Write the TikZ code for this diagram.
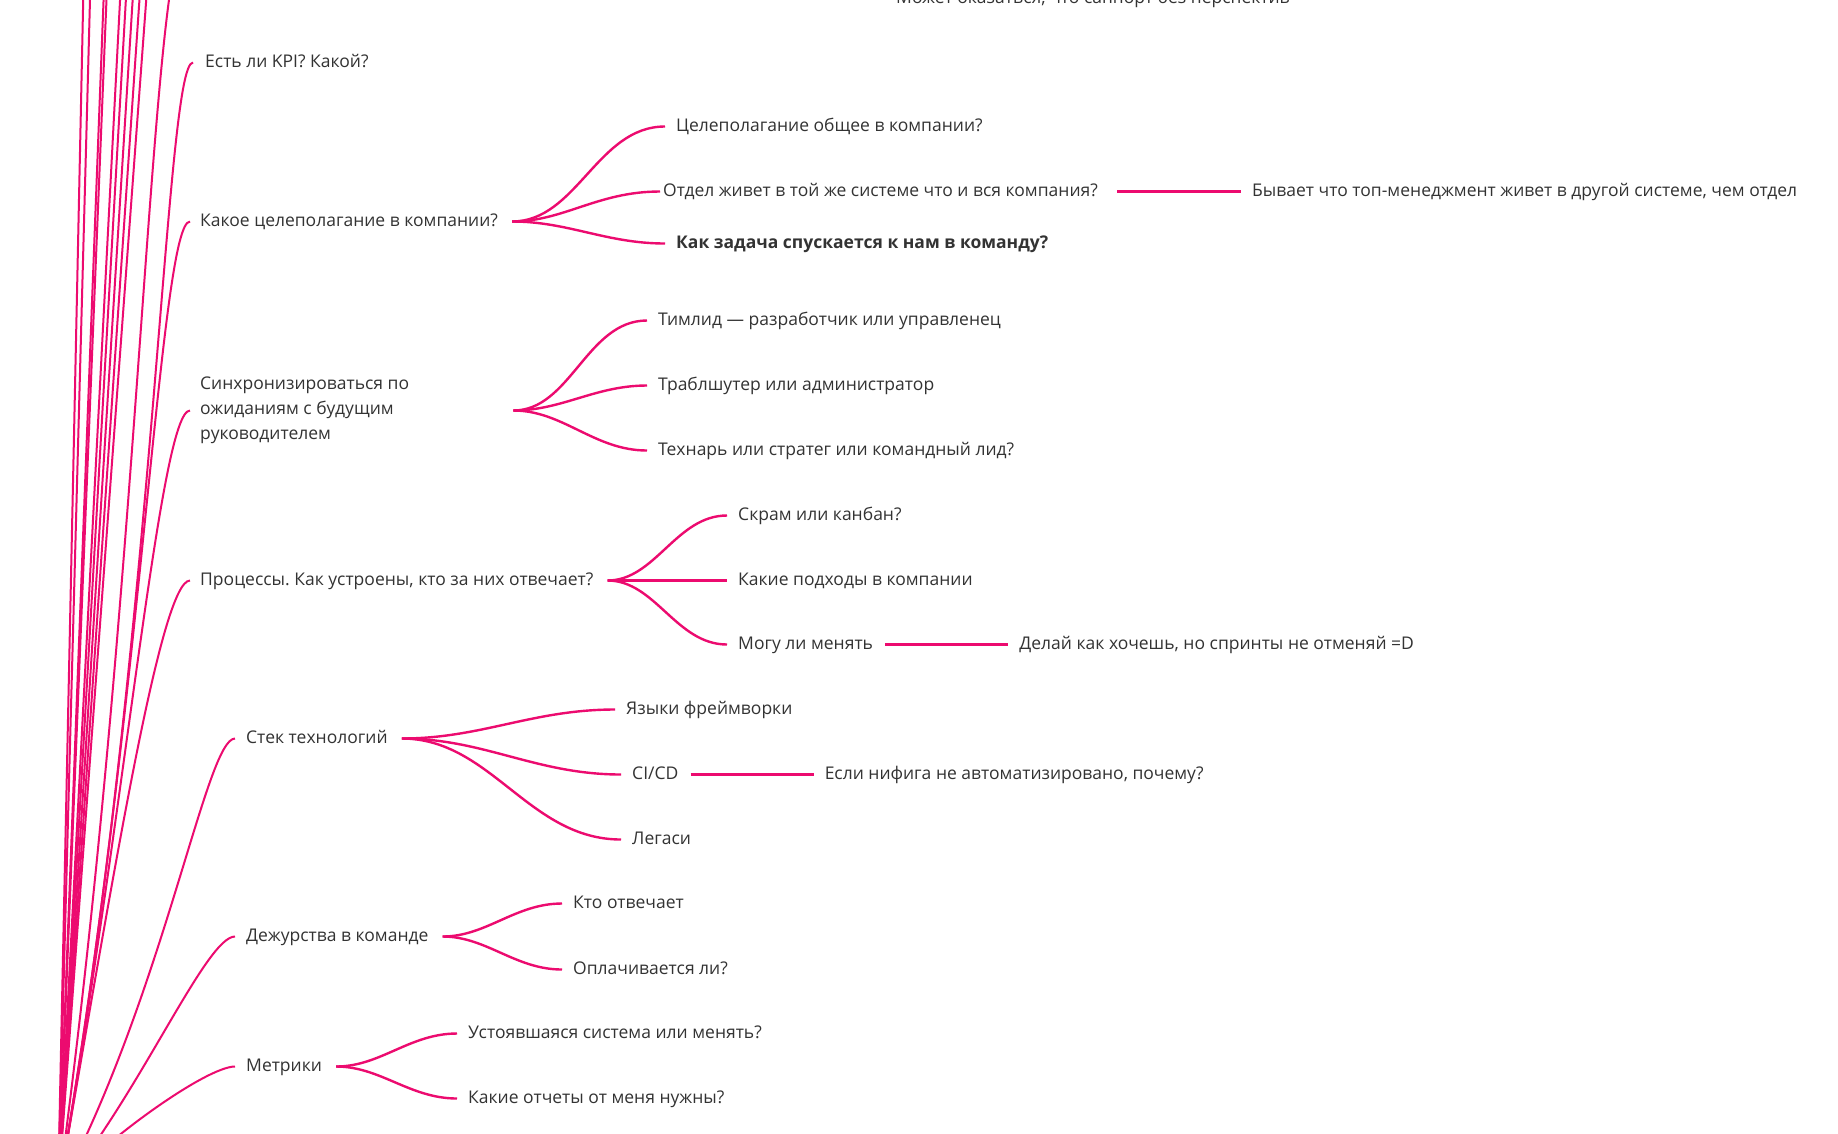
\documentclass[tikz,border=0pt]{standalone}
\usepackage{fontspec}
\setmainfont{Open Sans}
\usetikzlibrary{positioning}
\definecolor{mmpink}{HTML}{EC0B6F}
\definecolor{mmtext}{HTML}{333333}
\newcommand{\mmfont}{\fontsize{17.5}{25.2}\selectfont}
\frenchspacing

\begin{document}
\begin{tikzpicture}[x=1pt,y=-1pt,
    topic/.style={anchor=west, inner sep=0pt, text=mmtext, font=\mmfont,
      text height=12.5pt, text depth=3.5pt},
    link/.style={draw=mmpink, line width=2.4pt},
    trunk/.style={draw=mmpink, line width=2pt},
    fan/.style={link, out=0, in=180, shorten <=14pt, shorten >=11pt},
    note/.style={link, shorten <=12pt, shorten >=11pt}]
  \useasboundingbox (0,-2.5) rectangle (1838,1130.5);
  \fill[white] (0,-2.5) rectangle (1838,1130.5);
  \clip (0,-2.5) rectangle (1838,1130.5);

  % topics
  \node[topic, anchor=base west] (support) at (896,0.5) {Может оказаться, что саппорт без перспектив};
  \node[topic] (kpi) at (205,60) {Есть ли KPI? Какой?};
  \node[topic] (goals) at (200,219) {Какое целеполагание в компании?};
  \node[topic] (goal1) at (676,124) {Целеполагание общее в компании?};
  \node[topic] (goal2) at (663,189) {Отдел живет в той же системе что и вся компания?};
  \node[topic, font=\mmfont\bfseries] (goal3) at (676,241) {Как задача спускается к нам в команду?};
  \node[topic, right=154pt of goal2] (goal2a) {Бывает что топ-менеджмент живет в другой системе, чем отдел};
  \node[topic, align=left, text height=, text depth=] (sync) at (200,408) {Синхронизироваться по\\ожиданиям с будущим\\руководителем};
  \node[topic] (sync1) at (658,318) {Тимлид — разработчик или управленец};
  \node[topic] (sync2) at (658,383) {Траблшутер или администратор};
  \node[topic] (sync3) at (658,448) {Технарь или стратег или командный лид?};
  \node[topic] (proc) at (200,578) {Процессы. Как устроены, кто за них отвечает?};
  \node[topic] (proc1) at (738,513) {Скрам или канбан?};
  \node[topic] (proc2) at (738,578) {Какие подходы в компании};
  \node[topic] (proc3) at (738,642) {Могу ли менять};
  \node[topic, right=146pt of proc3] (proc3a) {Делай как хочешь, но спринты не отменяй =D};
  \node[topic] (stack) at (246,736) {Стек технологий};
  \node[topic] (stack1) at (626,707) {Языки фреймворки};
  \node[topic] (stack2) at (632,772) {CI/CD};
  \node[topic, right=146pt of stack2] (stack2a) {Если нифига не автоматизировано, почему?};
  \node[topic] (stack3) at (632,837) {Легаси};
  \node[topic] (duty) at (246,934) {Дежурства в команде};
  \node[topic] (duty1) at (573,901) {Кто отвечает};
  \node[topic] (duty2) at (573,967) {Оплачивается ли?};
  \node[topic] (metr) at (246,1064) {Метрики};
  \node[topic] (metr1) at (468,1031) {Устоявшаяся система или менять?};
  \node[topic] (metr2) at (468,1096) {Какие отчеты от меня нужны?};

  % trunk, the root sits below the crop
  \coordinate (root) at (58,1190);
  \coordinate (up1) at (84,-40);
  \coordinate (up2) at (91,-40);
  \coordinate (up3) at (105,-40);
  \coordinate (up4) at (108,-40);
  \coordinate (up5) at (122,-40);
  \coordinate (up6) at (128,-40);
  \coordinate (up7) at (135,-40);
  \coordinate (up8) at (142,-40);
  \coordinate (up9) at (149,-40);
  \coordinate (up10) at (190,-75);
  \draw[trunk] (root) -- (up1);
  \draw[trunk] (root) -- (up2);
  \draw[trunk] (root) -- (up3);
  \draw[trunk] (root) -- (up4);
  \draw[trunk] (root) -- (up5);
  \draw[trunk] (root) -- (up6);
  \draw[trunk] (root) -- (up7);
  \draw[trunk] (root) -- (up8);
  \draw[trunk] (root) -- (up9);
  \draw[trunk] (root) .. controls +(86,-630) and +(-40,0) .. (up10);
  \draw[trunk, shorten >=12pt] (root) .. controls +(98,-556) and +(-40,0) .. (kpi.west);
  \draw[trunk, shorten >=10pt] (root) .. controls +(84,-478) and +(-40,0) .. (goals.west);
  \draw[trunk, shorten >=10pt] (root) .. controls +(68,-385) and +(-40,0) .. (sync.west);
  \draw[trunk, shorten >=10pt] (root) .. controls +(53,-301) and +(-40,0) .. (proc.west);
  \draw[trunk, shorten >=11pt] (root) .. controls +(107,-200) and +(-40,0) .. (stack.west);
  \draw[trunk, shorten >=11pt] (root) .. controls +(82,-98) and +(-40,0) .. (duty.west);
  \draw[trunk, shorten >=11pt] (root) .. controls +(41,-49) and +(-40,0) .. (metr.west);

  % second level
  \draw[fan] (goals.east) to (goal1.west);
  \draw[fan, shorten >=3pt] (goals.east) to (goal2.west);
  \draw[fan] (goals.east) to (goal3.west);
  \draw[fan] (sync.east) ++(90,0) to (sync1.west);
  \draw[fan] (sync.east) ++(90,0) to (sync2.west);
  \draw[fan] (sync.east) ++(90,0) to (sync3.west);
  \draw[fan] (proc.east) to (proc1.west);
  \draw[fan] (proc.east) to (proc2.west);
  \draw[fan] (proc.east) to (proc3.west);
  \draw[fan] (stack.east) to (stack1.west);
  \draw[fan] (stack.east) to (stack2.west);
  \draw[fan] (stack.east) to (stack3.west);
  \draw[fan] (duty.east) to (duty1.west);
  \draw[fan] (duty.east) to (duty2.west);
  \draw[fan] (metr.east) to (metr1.west);
  \draw[fan] (metr.east) to (metr2.west);

  % notes
  \draw[note, shorten <=19pt] (goal2.east) -- (goal2a.west);
  \draw[note] (proc3.east) -- (proc3a.west);
  \draw[note] (stack2.east) -- (stack2a.west);
\end{tikzpicture}
\end{document}
